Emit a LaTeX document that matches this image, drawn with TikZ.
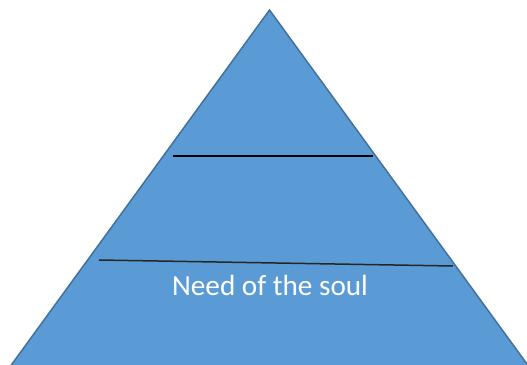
\documentclass[tikz,border=0pt]{standalone}
\usepackage{fontspec}
\setmainfont{Carlito}
\definecolor{fillblue}{HTML}{5B9BD5}
\definecolor{edgeblue}{HTML}{41719C}
\tikzset{
  pyr/.style={fill=fillblue, draw=edgeblue, line width=1.5pt, line join=miter},
  divider/.style={draw=black, line width=2pt},
  lbl/.style={text=white, font=\fontsize{29.2}{32}\selectfont, inner sep=0pt}
}
\begin{document}
\begin{tikzpicture}[x=1pt,y=-1pt]
\useasboundingbox (0,0) rectangle (527,364);
\clip (0,0) rectangle (527,364);
\coordinate (apex) at (269.5,10);
\coordinate (bl) at (4,375);
\coordinate (br) at (535,375);
\path[pyr] (apex) -- (br) -- (bl) -- cycle;
\coordinate (a1) at (173,156);
\coordinate (b1) at (373,156);
\coordinate (a2) at (99,260);
\coordinate (b2) at (453,266);
\draw[divider] (a1) -- (b1);
\draw[divider, line width=1.5pt, draw=black!85] (a2) -- (b2);
\node[lbl] (soul) at (270,285) {Need of the soul};
\end{tikzpicture}
\end{document}
